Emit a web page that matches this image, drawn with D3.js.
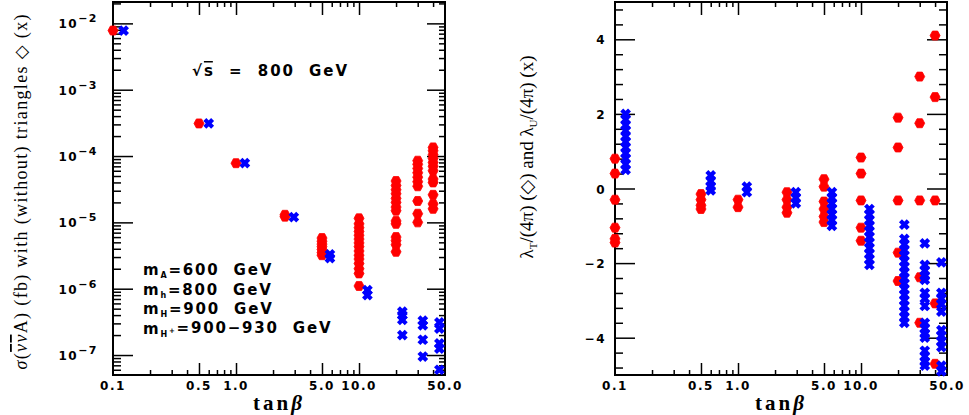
<!DOCTYPE html>
<html>
<head>
<meta charset="utf-8">
<script src="https://cdnjs.cloudflare.com/ajax/libs/d3/7.8.5/d3.min.js"></script>
<style>
  body { margin:0; background:#fff; }
  svg text { font-family: "DejaVu Sans", sans-serif; font-weight: bold; fill: #000; }
  .serif text, text.serif { font-family: "Liberation Serif", "DejaVu Serif", serif; font-weight: normal; }
</style>
</head>
<body>
<div id="chart"></div>
<script>
// tan(beta) scan points; the blue (x) set is drawn a little to the right
var tanbRed  = [0.1, 0.5, 1, 2.5, 5, 10, 20, 30, 40];
var tanbBlue = [0.122, 0.6, 1.18, 2.95, 5.8, 11.7, 22.5, 33, 45];

// sigma (fb), with triangles (diamonds) / without (x)
var sigmaWith = [
  [7.8e-3],
  [3.1e-4],
  [7.8e-5],
  [1.3e-5, 1.22e-5],
  [5.8e-6, 5.2e-6, 4.7e-6, 4.3e-6, 3.9e-6, 3.5e-6, 3.2e-6],
  [1.15e-5, 9.5e-6, 8.3e-6, 7.3e-6, 6.4e-6, 5.6e-6, 4.9e-6, 4.3e-6, 3.7e-6, 3.2e-6, 2.8e-6, 2.4e-6, 2.0e-6, 1.7e-6, 1.1e-6],
  [4.2e-5, 3.6e-5, 3.1e-5, 2.7e-5, 2.3e-5, 2.0e-5, 1.7e-5, 1.5e-5, 1.05e-5, 9.5e-6, 6.0e-6, 5.3e-6, 4.6e-6, 3.6e-6],
  [8.5e-5, 7.5e-5, 6.5e-5, 5.6e-5, 4.8e-5, 4.1e-5, 3.5e-5, 2.1e-5, 1.35e-5, 1.0e-5],
  [1.35e-4, 1.2e-4, 1.05e-4, 9.2e-5, 8.0e-5, 7.0e-5, 6.0e-5, 4.5e-5, 4.0e-5, 2.6e-5, 1.9e-5, 1.6e-5]
];
var sigmaWithout = [
  [7.8e-3],
  [3.1e-4],
  [7.8e-5],
  [1.2e-5],
  [3.3e-6, 2.9e-6],
  [9.5e-7, 8.0e-7],
  [4.5e-7, 4.0e-7, 3.4e-7, 2.0e-7],
  [3.3e-7, 2.8e-7, 1.7e-7, 9.5e-8],
  [3.1e-7, 2.5e-7, 1.5e-7, 1.25e-7, 6.0e-8]
];

// lambda_T/(4pi) (diamonds) and lambda_U/(4pi) (x)
var lambdaT = [
  [0.8, 0.4, -0.3, -1.05, -1.35, -1.45],
  [-0.15, -0.3, -0.45, -0.55],
  [-0.3, -0.5],
  [-0.1, -0.3, -0.5, -0.65],
  [0.25, 0.05, -0.35, -0.55, -0.75, -0.9],
  [0.83, 0.4, -0.32, -1.05, -1.4],
  [1.9, 1.1, -0.32, -1.72, -2.48],
  [3.0, 1.75, -0.32, -2.38, -3.6],
  [4.1, 2.45, -0.32, -3.08, -4.7]
];
var lambdaU = [
  [2.0, 1.85, 1.7, 1.55, 1.4, 1.25, 1.1, 0.95, 0.8, 0.65, 0.5],
  [0.35, 0.2, 0.05, -0.05],
  [0.05, -0.1],
  [-0.1, -0.25, -0.4],
  [-0.1, -0.25, -0.4, -0.55, -0.7, -0.85, -1.0],
  [-0.55, -0.7, -0.85, -1.0, -1.15, -1.3, -1.45, -1.6, -1.75, -1.9, -2.05],
  [-0.97, -1.35, -1.5, -1.65, -1.8, -1.95, -2.1, -2.25, -2.4, -2.55, -2.7, -2.85, -3.0, -3.15, -3.3, -3.45, -3.6],
  [-1.47, -2.05, -2.2, -2.35, -2.45, -2.8, -2.95, -3.15, -3.6, -3.75, -3.9, -4.0, -4.35, -4.5, -4.65, -4.75],
  [-1.98, -2.8, -2.95, -3.1, -3.3, -3.8, -3.95, -4.1, -4.25, -4.75, -4.9]
];

// axis ticks and labels
var xLabelVals = [0.1, 0.5, 1, 5, 10, 50];
var xLabels    = ["0.1", "0.5", "1.0", "5.0", "10.0", "50.0"];
var xMajor = [0.5, 1, 5, 10];
var xMinor = [0.2, 0.3, 0.4, 0.6, 0.7, 0.8, 0.9, 2, 3, 4, 6, 7, 8, 9, 20, 30, 40];
var sigmaDecades = [-7, -6, -5, -4, -3, -2];
var lambdaMajor = [-4, -2, 0, 2, 4];
var lambdaLabels = ["\u22124", "\u22122", "0", "2", "4"];

var massNames  = ["A", "h", "H", "H"];
var massSup    = ["", "", "", "+"];
var massValues = ["=600  GeV", "=800  GeV", "=900  GeV", "=900\u2212930  GeV"];

var W = 969, H = 415;
var svg = d3.select("#chart").append("svg").attr("width", W).attr("height", H);

var xL = d3.scaleLog().domain([0.1, 50]).range([113, 445]);
var yL = d3.scaleLog().domain([5e-8, 2.1e-2]).range([375, 2]);
var xR = d3.scaleLog().domain([0.1, 50]).range([615, 947]);
var yR = d3.scaleLinear().domain([-5, 5]).range([375, 2]);

var sigmaMinor = [];
sigmaDecades.concat([-8]).forEach(function(d) {
  for (var k = 2; k <= 9; k++) {
    var v = k * Math.pow(10, d);
    if (v > yL.domain()[0] && v < yL.domain()[1]) sigmaMinor.push(v);
  }
});
var lambdaMinor = d3.range(-12, 13).filter(function(i) { return i % 5 !== 0; })
  .map(function(i) { return i * 0.4; });

function ticks(axis, pos, values, size) {
  svg.append("g")
    .attr("transform", pos)
    .call(axis.tickValues(values).tickSize(-size).tickFormat(""))
    .call(function(g) { g.select(".domain").remove(); })
    .selectAll("line").attr("stroke", "#000").attr("stroke-width", 1.5);
}

function frame(x, y) {
  var x0 = x.range()[0], x1 = x.range()[1], y0 = y.range()[1], y1 = y.range()[0];
  ticks(d3.axisBottom(x), "translate(0," + y1 + ")", xMajor, 12);
  ticks(d3.axisBottom(x), "translate(0," + y1 + ")", xMinor, 5);
  ticks(d3.axisTop(x), "translate(0," + y0 + ")", xMajor, 13);
  ticks(d3.axisTop(x), "translate(0," + y0 + ")", xMinor, 5);
  svg.append("rect")
    .attr("x", x0).attr("y", y0).attr("width", x1 - x0).attr("height", y1 - y0)
    .attr("fill", "none").attr("stroke", "#000").attr("stroke-width", 2);
  svg.append("g").selectAll("text").data(xLabelVals).enter().append("text")
    .attr("x", function(d) { return x(d); })
    .attr("y", 390)
    .attr("text-anchor", "middle")
    .style("font-size", "12px").style("letter-spacing", "1.5px")
    .text(function(d, i) { return xLabels[i]; });
  svg.append("text")
    .attr("class", "serif")
    .attr("x", (x0 + x1) / 2).attr("y", 410)
    .attr("text-anchor", "middle")
    .style("font-size", "21px").style("font-weight", "bold").style("letter-spacing", "3px")
    .html("tan<tspan font-style=\"italic\">\u03b2</tspan>");
}

// ---- left panel: cross section
frame(xL, yL);
ticks(d3.axisLeft(yL), "translate(113,0)", sigmaDecades.map(function(d) { return Math.pow(10, d); }), 20);
ticks(d3.axisLeft(yL), "translate(113,0)", sigmaMinor, 8);
ticks(d3.axisRight(yL), "translate(445,0)", sigmaDecades.map(function(d) { return Math.pow(10, d); }), 18);
ticks(d3.axisRight(yL), "translate(445,0)", sigmaMinor, 6);

svg.append("g").selectAll("text").data(sigmaDecades).enter().append("text")
  .attr("x", 98)
  .attr("y", function(d) { return yL(Math.pow(10, d)) + 5; })
  .attr("text-anchor", "end")
  .style("font-size", "12px").style("letter-spacing", "1.5px")
  .html(function(d) {
    return "10<tspan dy=\"-6\" style=\"font-size:11px\">" + (d < 0 ? "\u2212" : "") + Math.abs(d) + "</tspan>";
  });

// ---- right panel: couplings
frame(xR, yR);
ticks(d3.axisLeft(yR), "translate(615,0)", lambdaMajor, 20);
ticks(d3.axisLeft(yR), "translate(615,0)", lambdaMinor, 8);
ticks(d3.axisRight(yR), "translate(947,0)", lambdaMajor, 20);
ticks(d3.axisRight(yR), "translate(947,0)", lambdaMinor, 8);

svg.append("g").selectAll("text").data(lambdaMajor).enter().append("text")
  .attr("x", 606)
  .attr("y", function(d) { return yR(d) + 5; })
  .attr("text-anchor", "end")
  .style("font-size", "12px").style("letter-spacing", "1.5px")
  .text(function(d, i) { return lambdaLabels[i]; });

// markers
var hexPath = "M-2.6,-4.5L2.6,-4.5L5,0L2.6,4.5L-2.6,4.5L-5,0Z";
var crossPath = "M-2.4,-2.4L2.4,2.4M-2.4,2.4L2.4,-2.4";

function flat(xs, ys) {
  var out = [];
  ys.forEach(function(col, i) {
    col.forEach(function(v) { out.push([xs[i], v]); });
  });
  return out;
}

function plotRed(x, y, pts) {
  svg.append("g").selectAll("path").data(pts).enter().append("path")
    .attr("transform", function(d) { return "translate(" + x(d[0]) + "," + y(d[1]) + ")"; })
    .attr("d", hexPath)
    .attr("fill", "#ff0000").attr("stroke", "#ff0000").attr("stroke-width", 0.8);
}
function plotBlue(x, y, pts) {
  svg.append("g").selectAll("path").data(pts).enter().append("path")
    .attr("transform", function(d) { return "translate(" + x(d[0]) + "," + y(d[1]) + ")"; })
    .attr("d", crossPath)
    .attr("fill", "none").attr("stroke", "#0000ff").attr("stroke-width", 4.2)
    .attr("stroke-linecap", "square");
}

plotRed(xL, yL, flat(tanbRed, sigmaWith));
plotBlue(xL, yL, flat(tanbBlue, sigmaWithout));
plotRed(xR, yR, flat(tanbRed, lambdaT));
plotBlue(xR, yR, flat(tanbBlue, lambdaU));

// ---- annotations
svg.append("text")
  .attr("x", 192).attr("y", 76)
  .attr("textLength", 155)
  .style("font-size", "15px").style("white-space", "pre")
  .html("\u221a<tspan style=\"text-decoration: overline\">s</tspan>  =  800  GeV");

svg.append("g").selectAll("text").data(massNames).enter().append("text")
  .attr("x", 143)
  .attr("y", function(d, i) { return 275 + i * 19.5; })
  .style("font-size", "15px").style("letter-spacing", "1.8px").style("white-space", "pre")
  .html(function(d, i) {
    return "m<tspan dy=\"3\" style=\"font-size:8px\">" + d + "</tspan>" +
      (massSup[i] ? "<tspan dy=\"-4\" style=\"font-size:7px\">" + massSup[i] + "</tspan><tspan dy=\"1\"></tspan>" : "") +
      "<tspan dy=\"" + (massSup[i] ? 0 : -3) + "\">" + massValues[i] + "</tspan>";
  });

// ---- y axis titles
svg.append("text")
  .attr("class", "serif")
  .attr("transform", "translate(27,192) rotate(-90)")
  .attr("text-anchor", "middle")
  .attr("textLength", 355)
  .style("font-size", "18px")
  .html("<tspan font-style=\"italic\">\u03c3</tspan>(<tspan font-style=\"italic\" style=\"text-decoration: overline\">\u03bd\u03bd</tspan>A) (fb) with (without) triangles \u25c7 (x)");

svg.append("text")
  .attr("class", "serif")
  .attr("transform", "translate(533,157) rotate(-90)")
  .attr("text-anchor", "middle")
  .style("font-size", "19px")
  .html("\u03bb<tspan dy=\"4\" style=\"font-size:11px\">T</tspan><tspan dy=\"-4\">/(4\u03c0) (\u25c7) and \u03bb</tspan><tspan dy=\"4\" style=\"font-size:11px\">U</tspan><tspan dy=\"-4\">/(4\u03c0) (x)</tspan>");
</script>
</body>
</html>
